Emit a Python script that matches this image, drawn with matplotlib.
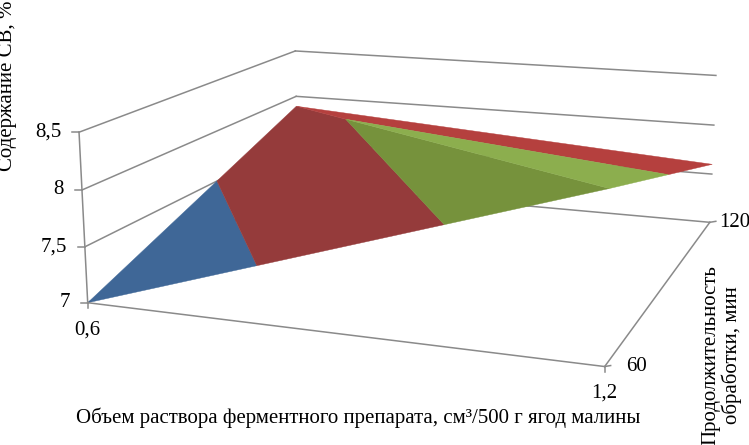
import numpy as np
import matplotlib
matplotlib.use('Agg')
import matplotlib.pyplot as plt
from matplotlib.patches import Polygon

# Данные
volumes = [0.6, 1.2]
times = [60, 120]
sv_values = [[7.0, 8.4],
             [7.89, 7.6]]  # строки - время, столбцы - объем
z_ticks = [7, 7.5, 8, 8.5]
z_labels = ['7', '7,5', '8', '8,5']
volume_labels = ['0,6', '1,2']
time_labels = ['60', '120']
band_colors_front = ['#3F6797', '#953B3B', '#76923C']
band_colors_back = ['#3F6797', '#B5403E', '#8CAE4E']

plt.rcParams['font.family'] = ['Liberation Serif', 'DejaVu Serif']
GRAY = '#8A8A8A'
FS = 15

# Камера: углы коробки (объем, время, СВ) -> пиксели, перспектива подбирается по ним
box_corners = [(0.6, 60, 7), (0.6, 60, 8.5), (0.6, 120, 7), (0.6, 120, 8.5),
               (1.2, 120, 7), (1.2, 120, 8.5), (1.2, 60, 7), (1.2, 60, 8.5)]
box_pixels = [(88, 303), (79, 131), (297, 186), (296, 51),
              (708, 221), (718, 76), (608, 367), (606, 176)]


def norm(p):
    return ((p[0] - 0.6) / 0.6, (p[1] - 60) / 60, (p[2] - 7) / 1.5)


A, b = [], []
for c, (u, v) in zip(box_corners, box_pixels):
    X, Y, Z = norm(c)
    A.append([X, Y, Z, 1, 0, 0, 0, 0, -u * X, -u * Y, -u * Z])
    A.append([0, 0, 0, 0, X, Y, Z, 1, -v * X, -v * Y, -v * Z])
    b += [u, v]
cam = np.linalg.lstsq(np.array(A, float), np.array(b, float), rcond=None)[0]
cam = np.append(cam, 1).reshape(3, 4)


def proj(x, y, z):
    h = cam @ np.array([*norm((x, y, z)), 1])
    return h[0] / h[2], h[1] / h[2]


def clip(poly, level, keep_above):
    # обрезка многоугольника по уровню z
    res = []
    for i in range(len(poly)):
        p, q = poly[i], poly[(i + 1) % len(poly)]
        pin = p[2] >= level if keep_above else p[2] <= level
        qin = q[2] >= level if keep_above else q[2] <= level
        if pin:
            res.append(p)
        if pin != qin:
            t = (level - p[2]) / (q[2] - p[2])
            res.append(tuple(p[k] + t * (q[k] - p[k]) for k in range(3)))
    return res


fig = plt.figure(figsize=(7.49, 4.45), dpi=100)
ax = fig.add_axes([0, 0, 1, 1])
ax.set_xlim(0, 749)
ax.set_ylim(445, 0)
ax.axis('off')


def line(p, q, z=1):
    a, c = proj(*p), proj(*q)
    ax.plot([a[0], c[0]], [a[1], c[1]], color=GRAY, lw=1.1, zorder=z)


x0, x1 = volumes
y0, y1 = times

# Стенки и дно
for z in z_ticks:
    line((x0, y0, z), (x0, y1, z))
    line((x0, y1, z), (x1, y1, z))
    u, v = proj(x0, y0, z)
    ax.plot([u - 7, u], [v, v], color=GRAY, lw=1.1, zorder=1)
line((x0, y0, 7), (x0, y0, 8.5), 3)
line((x0, y0, 7), (x1, y0, 7), 3)
line((x1, y0, 7), (x1, y1, 7), 3)

# Поверхность: два треугольника, разбитые на полосы по z
corner = {(i, j): (volumes[j], times[i], sv_values[i][j]) for i in range(2) for j in range(2)}
front = [corner[0, 0], corner[1, 0], corner[0, 1]]
back = [corner[1, 0], corner[1, 1], corner[0, 1]]
for tri, colors in ((front, band_colors_front), (back, band_colors_back)):
    for k in range(len(z_ticks) - 1):
        part = clip(clip(tri, z_ticks[k], True), z_ticks[k + 1], False)
        if len(part) > 2:
            ax.add_patch(Polygon([proj(*p) for p in part], closed=True, facecolor=colors[k],
                                 edgecolor=colors[k], lw=0.3, zorder=2))

# Подписи делений
for z, lab in zip(z_ticks, z_labels):
    u, v = proj(x0, y0, z)
    ax.text(u - 18, v, lab, ha='right', va='center', fontsize=FS, color='black')
for vol, lab in zip(volumes, volume_labels):
    u, v = proj(vol, y0, 7)
    ax.plot([u, u], [v, v + 5], color=GRAY, lw=1.1, zorder=1)
    ax.text(u + 0, v + 27, lab, ha='center', va='center', fontsize=FS)
for t, lab, pad in zip(times, time_labels, [21, 9]):
    u, v = proj(x1, t, 7)
    ax.plot([u, u + 6], [v, v - 1], color=GRAY, lw=1.1, zorder=1)
    ax.text(u + pad, v, lab, ha='left', va='center', fontsize=FS)

# Подписи осей
ax.text(8, 171, 'Содержание СВ, %', rotation=90, ha='center', va='bottom', fontsize=FS)
ax.text(358, 418, 'Объем раствора ферментного препарата, см³/500 г ягод малины',
        ha='center', va='center', fontsize=FS)
ax.text(722, 355, 'Продолжительность\nобработки, мин', rotation=90, ha='center', va='center',
        multialignment='center', fontsize=FS, linespacing=1.05)

plt.savefig('out.png', dpi=100)
